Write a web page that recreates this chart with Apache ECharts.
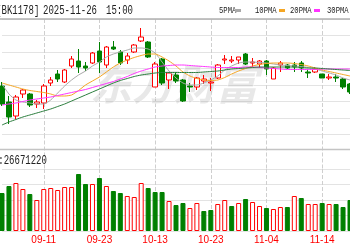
<!DOCTYPE html>
<html><head><meta charset="utf-8">
<script src="https://cdn.jsdelivr.net/npm/echarts@6/dist/echarts.min.js"></script>
<style>html,body{margin:0;padding:0;background:#fff;overflow:hidden}#c{width:350px;height:250px}</style>
</head><body><div id="c"></div>
<script>
// ---- data ----
const categories = ['09-03','09-04','09-05','09-08','09-09','09-10','09-11','09-12','09-15','09-16','09-17','09-18','09-19','09-22','09-23','09-24','09-25','09-26','09-29','09-30','10-09','10-10','10-13','10-14','10-15','10-16','10-17','10-20','10-21','10-22','10-23','10-24','10-27','10-28','10-29','10-30','10-31','11-03','11-04','11-05','11-06','11-07','11-10','11-11','11-12','11-13','11-14','11-17','11-18','11-19','11-20'];
const tickLabels = ['09-11','09-23','10-13','10-23','11-04','11-14'];
const openP  = [1097,1065,1037,1081,1081,1061,1063,1103,1121,1105,1137,1147,1137,1143,1167,1139,1175,1165,1149,1165,1187,1185,1095,1151,1109,1119,1109,1097,1095,1107,1103,1113,1149,1147,1149,1161,1143,1141,1147,1111,1139,1139,1139,1143,1125,1125,1121,1113,1115,1111,1101];
const closeP = [1061,1035,1075,1089,1059,1065,1097,1109,1111,1129,1151,1135,1133,1163,1145,1175,1171,1143,1157,1179,1195,1155,1141,1103,1123,1107,1067,1095,1113,1111,1105,1139,1151,1149,1155,1141,1145,1147,1131,1133,1143,1133,1135,1133,1123,1131,1113,1115,1113,1095,1085];
const lowP   = [1057,1021,1031,1073,1055,1053,1051,1097,1105,1103,1133,1123,1127,1141,1123,1133,1169,1139,1141,1163,1185,1153,1095,1099,1091,1103,1065,1085,1089,1101,1087,1111,1141,1143,1141,1139,1135,1133,1119,1111,1125,1131,1125,1125,1113,1123,1113,1109,1105,1091,1081];
const highP  = [1105,1077,1079,1091,1083,1069,1101,1115,1129,1131,1157,1171,1145,1165,1185,1177,1187,1169,1163,1181,1213,1187,1145,1153,1125,1125,1111,1103,1115,1119,1113,1141,1159,1157,1155,1163,1153,1149,1149,1135,1147,1141,1145,1147,1131,1135,1121,1121,1121,1113,1103];
const ma5  = [1101,1081,1069,1065,1063,1061,1061,1069,1083,1097,1109,1119,1127,1137,1145,1155,1161,1165,1169,1173,1173,1171,1163,1145,1127,1113,1103,1099,1099,1103,1109,1117,1129,1137,1143,1145,1145,1144,1143,1141,1139,1138,1137,1136,1134,1131,1127,1123,1119,1113,1109];
const ma10 = [1103,1099,1095,1091,1088,1086,1084,1081,1077,1077,1079,1088,1099,1107,1115,1125,1135,1143,1149,1154,1158,1161,1161,1155,1147,1137,1125,1117,1112,1109,1108,1109,1114,1121,1127,1132,1137,1140,1142,1143,1143,1143,1142,1140,1137,1133,1129,1126,1123,1120,1117];
const ma20 = [1059,1061,1063,1066,1069,1071,1073,1075,1078,1081,1084,1087,1090,1094,1098,1102,1106,1111,1116,1122,1127,1131,1135,1137,1138,1139,1139,1138,1137,1136,1135,1134,1134,1134,1134,1135,1135,1134,1133,1132,1131,1130,1130,1130,1130,1130,1131,1131,1131,1131,1131];
const ma30 = [1019,1025,1030,1035,1039,1043,1047,1051,1056,1061,1067,1073,1079,1085,1091,1097,1103,1108,1112,1116,1119,1121,1123,1124,1124,1124,1124,1124,1124,1125,1126,1127,1129,1131,1132,1133,1134,1135,1135,1135,1135,1135,1135,1134,1133,1133,1132,1131,1130,1129,1128];
const volumes = [3268,3870,4128,3612,3182,2666,3612,3698,3526,3784,3784,4902,4042,4042,4558,3870,3440,3268,3010,2924,4128,3698,3354,3354,2580,2236,2408,1978,2408,1720,1806,2322,2666,2150,2408,2752,2494,2150,1978,1892,2064,2064,3010,2838,2322,2322,2408,2322,2322,2064,2666];
const volUp = [0,0,1,1,0,1,1,1,1,1,1,0,0,1,0,1,0,0,1,1,1,0,0,0,1,0,0,1,1,0,0,1,1,0,1,0,1,1,0,1,1,0,1,0,1,1,0,1,0,0,0];
const headerCode = '[BK1178]';
const headerDate = '2025-11-26';
const headerTime = '15:00';
const volText = 'VOL:26671220';
const maNames = ['5PMA','10PMA','20PMA','30PMA'];
const watermark = '东方财富';
// ---- styles ----
const RED = '#ff0000', GREEN = '#008000';
const maColors = ['#a9a9a9','#f5a623','#ff33ff','#2a7d3c'];
const GRIDC = '#e3e3e3';

const candleData = openP.map((o,i)=>[o, closeP[i], lowP[i], highP[i]]);
const volData = volumes.map((v,i)=>({value:v, itemStyle: volUp[i] ?
  {color:'#fff', borderColor:RED, borderWidth:1} : {color:GREEN, borderColor:GREEN, borderWidth:1}}));

const isTick = (idx) => tickLabels.indexOf(categories[idx]) >= 0;
function xAx(gi, showLabel){
  return {type:'category', gridIndex:gi, data:categories, boundaryGap:false,
    axisLine:{show:false}, axisTick:{show:false},
    axisLabel:{show:showLabel, interval:(i)=>isTick(i), color:RED, fontSize:10,
      fontFamily:'Liberation Sans', margin:4},
    splitLine:{show:true, interval:(i)=>isTick(i), lineStyle:{color:'#cfcfcf', type:[4,2], width:1}}};
}
const L = 2, W = 350;
const chart = echarts.init(document.getElementById('c'), null, {renderer:'canvas'});
const monoText = (x, y, text, size, sx, fill) => ({type:'text', x:x, y:y, scaleX:sx, z:50,
  style:{text:text, font:size+'px "Liberation Mono"', fill:fill||'#222', textVerticalAlign:'middle', textAlign:'left'}});
const legendX = [219, 255, 290, 327];
const legendDashX = [235, 279, 314, 351];
const graphics = [
  monoText(-3.9, 10.5, headerCode, 12, 0.75),
  monoText(43, 10.5, headerDate, 12, 0.75),
  monoText(106, 10.5, headerTime, 12, 0.75),
  monoText(-17.9, 161, volText, 12, 0.75),
  {type:'line', z:40, shape:{x1:0,y1:19,x2:350,y2:19}, style:{stroke:'#b0b0b0', lineWidth:1.5}},
  {type:'line', z:40, shape:{x1:0,y1:149.5,x2:350,y2:149.5}, style:{stroke:'#c4c4c4', lineWidth:1.5}},
  {type:'text', x:174, y:84, z:1, style:{text:watermark, font:'italic bold 42px "Noto Sans CJK SC"',
     fill:'rgba(150,150,150,0.22)', stroke:'rgba(255,255,255,0.6)', lineWidth:1,
     textAlign:'center', textVerticalAlign:'middle'}}
];
maNames.forEach((n,i)=>{
  graphics.push(monoText(legendX[i], 10.5, n, 9, 0.8, '#222'));
  graphics.push({type:'rect', z:50, shape:{x:legendDashX[i], y:9, width:6, height:3}, style:{fill:maColors[i]}});
});

chart.setOption({
  animation:false,
  backgroundColor:'#fff',
  grid:[
    {left:L, width:W, top:19, height:115.5},
    {left:L, width:W, top:134.5, height:34.5},
    {left:L, width:W, top:169, height:62}
  ],
  xAxis:[xAx(0,false), xAx(1,false), xAx(2,true)],
  yAxis:[
    {gridIndex:0, min:1000, max:1231, interval:33, axisLabel:{show:false}, axisLine:{show:false}, axisTick:{show:false},
      splitLine:{show:true, lineStyle:{color:GRIDC, width:1}}},
    {gridIndex:1, min:0, max:1, show:false, splitLine:{show:false}},
    {gridIndex:2, min:0, max:5332, interval:1333, axisLabel:{show:false}, axisLine:{show:false}, axisTick:{show:false},
      splitLine:{show:true, lineStyle:{color:GRIDC, width:1}}}
  ],
  graphic:graphics,
  series:[
    {type:'candlestick', xAxisIndex:0, yAxisIndex:0, data:candleData, barWidth:5, clip:false, z:3,
      itemStyle:{color:'#fff', color0:GREEN, borderColor:RED, borderColor0:GREEN, borderWidth:1}},
    ...[ma5, ma10, ma20, ma30].map((d,i)=>({type:'line', xAxisIndex:0, yAxisIndex:0, data:d, symbol:'none',
      clip:false, z:4, smooth:0.2, lineStyle:{color:maColors[i], width:1}})),
    {type:'bar', xAxisIndex:2, yAxisIndex:2, data:volData, barWidth:5, clip:false}
  ]
});
</script></body></html>
